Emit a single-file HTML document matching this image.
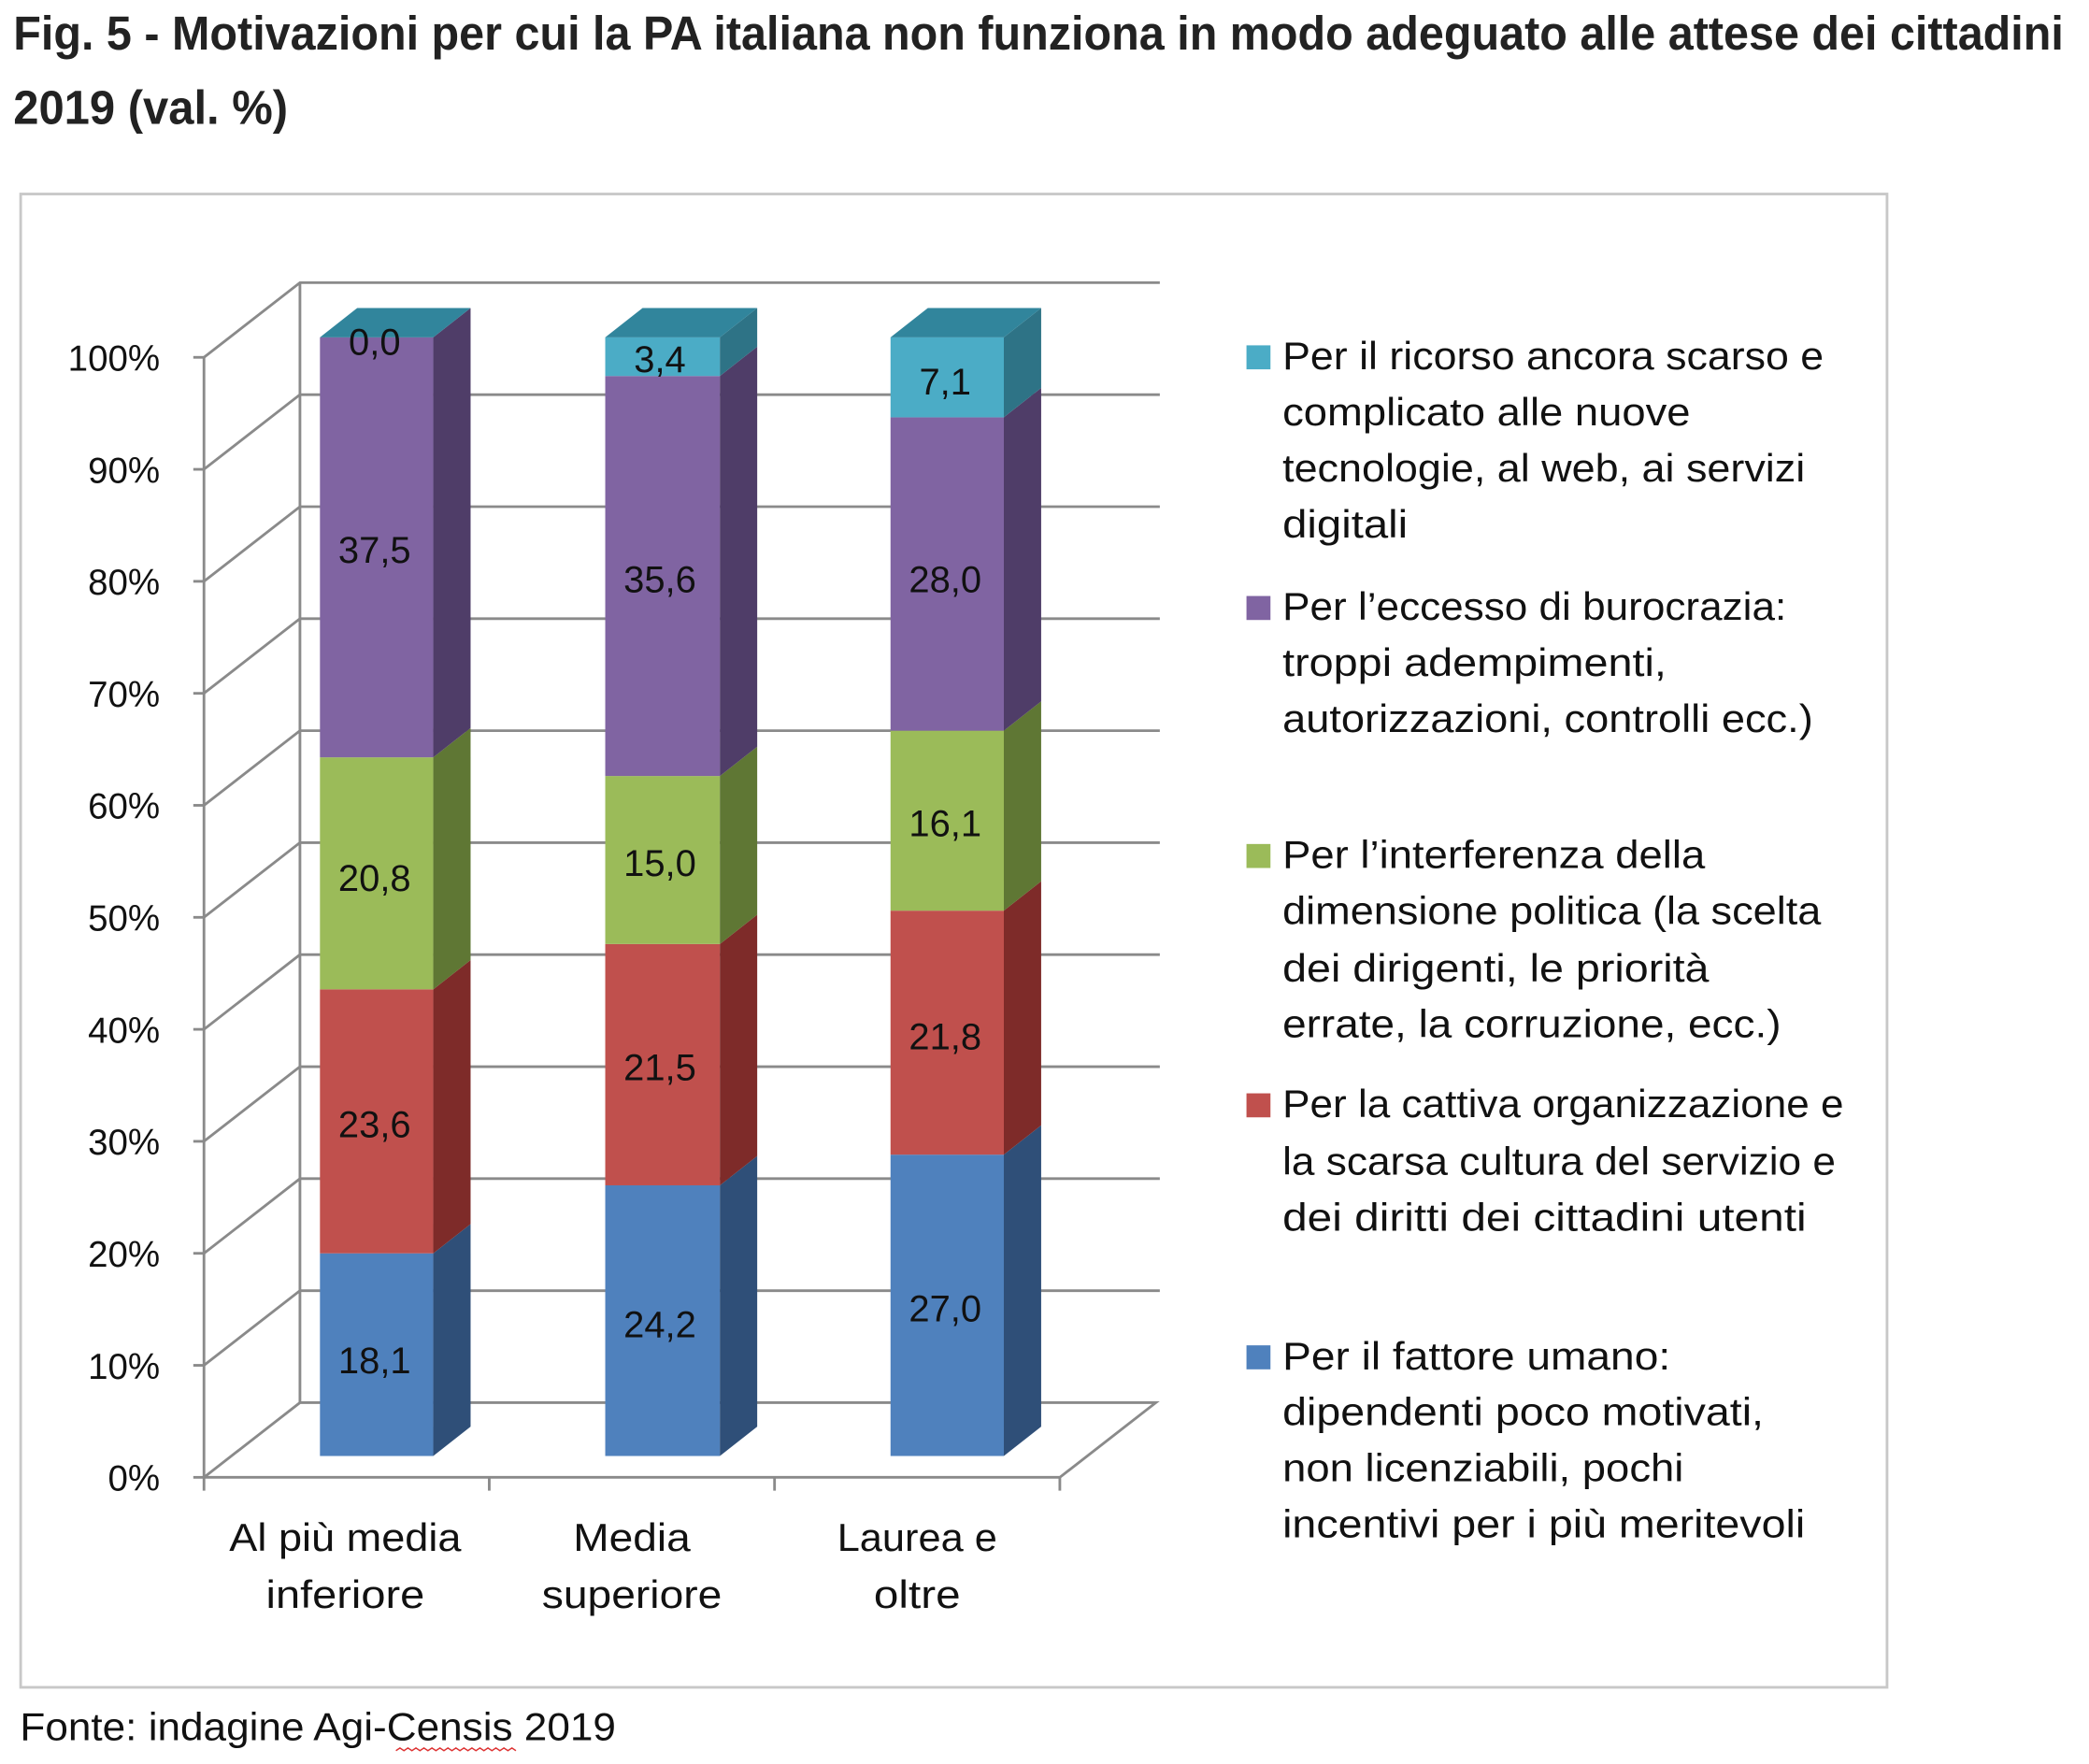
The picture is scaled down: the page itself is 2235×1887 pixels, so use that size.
<!DOCTYPE html>
<html><head><meta charset="utf-8"><style>
html,body{margin:0;padding:0;background:#fff;}
svg{display:block;}
text{font-family:"Liberation Sans",sans-serif;fill:#111;}
.t{font-family:"Liberation Sans Narrow","Liberation Sans",sans-serif;font-weight:bold;font-size:36px;fill:#222;}
.l{font-size:29px;}
.d{font-size:28px;text-anchor:middle;}
.y{font-size:27px;text-anchor:end;}
.c{font-size:29px;text-anchor:middle;}
</style></head><body>
<svg width="2235" height="1887" viewBox="0 0 1567 1323" preserveAspectRatio="none" xmlns="http://www.w3.org/2000/svg">
<text class="t" x="10" y="37" textLength="1538" lengthAdjust="spacingAndGlyphs">Fig. 5 - Motivazioni per cui la PA italiana non funziona in modo adeguato alle attese dei cittadini</text>
<text class="t" x="10" y="93" textLength="206" lengthAdjust="spacingAndGlyphs">2019 (val. %)</text>
<rect x="15.5" y="145.5" width="1400" height="1120" fill="none" stroke="#c8c8c8" stroke-width="2"/>
<g stroke="#8a8a8a" stroke-width="2" fill="none">
<line x1="225" y1="212" x2="225" y2="1052"/>
<line x1="153" y1="268" x2="153" y2="1108"/>
<polyline points="153,268 225,212 870,212"/>
<polyline points="153,352 225,296 870,296"/>
<polyline points="153,436 225,380 870,380"/>
<polyline points="153,520 225,464 870,464"/>
<polyline points="153,604 225,548 870,548"/>
<polyline points="153,688 225,632 870,632"/>
<polyline points="153,772 225,716 870,716"/>
<polyline points="153,856 225,800 870,800"/>
<polyline points="153,940 225,884 870,884"/>
<polyline points="153,1024 225,968 870,968"/>
<polyline points="153,1108 225,1052 867,1052 795,1108 153,1108"/>
<line x1="145" y1="268" x2="153" y2="268"/><line x1="145" y1="352" x2="153" y2="352"/><line x1="145" y1="436" x2="153" y2="436"/><line x1="145" y1="520" x2="153" y2="520"/><line x1="145" y1="604" x2="153" y2="604"/><line x1="145" y1="688" x2="153" y2="688"/><line x1="145" y1="772" x2="153" y2="772"/><line x1="145" y1="856" x2="153" y2="856"/><line x1="145" y1="940" x2="153" y2="940"/><line x1="145" y1="1024" x2="153" y2="1024"/><line x1="145" y1="1108" x2="153" y2="1108"/>
<line x1="153" y1="1108" x2="153" y2="1118"/><line x1="367" y1="1108" x2="367" y2="1118"/><line x1="581" y1="1108" x2="581" y2="1118"/><line x1="795" y1="1108" x2="795" y2="1118"/>
</g>
<g>
<text class="y" x="120" y="278">100%</text><text class="y" x="120" y="362">90%</text><text class="y" x="120" y="446">80%</text><text class="y" x="120" y="530">70%</text><text class="y" x="120" y="614">60%</text><text class="y" x="120" y="698">50%</text><text class="y" x="120" y="782">40%</text><text class="y" x="120" y="866">30%</text><text class="y" x="120" y="950">20%</text><text class="y" x="120" y="1034">10%</text><text class="y" x="120" y="1118">0%</text>
</g>
<g>
<rect x="240" y="940" width="85" height="152" fill="#4F81BD"/><polygon points="325,940 353,918 353,1070 325,1092" fill="#2F4F78"/>
<rect x="240" y="742" width="85" height="198" fill="#C0504D"/><polygon points="325,742 353,720 353,918 325,940" fill="#7E2B29"/>
<rect x="240" y="568" width="85" height="174" fill="#9BBB59"/><polygon points="325,568 353,546 353,720 325,742" fill="#5F7734"/>
<rect x="240" y="253" width="85" height="315" fill="#8064A2"/><polygon points="325,253 353,231 353,546 325,568" fill="#4F3D68"/>
<polygon points="240,253 268,231 353,231 325,253" fill="#31859C"/>
</g>
<g>
<rect x="454" y="889" width="86" height="203" fill="#4F81BD"/><polygon points="540,889 568,867 568,1070 540,1092" fill="#2F4F78"/>
<rect x="454" y="708" width="86" height="181" fill="#C0504D"/><polygon points="540,708 568,686 568,867 540,889" fill="#7E2B29"/>
<rect x="454" y="582" width="86" height="126" fill="#9BBB59"/><polygon points="540,582 568,560 568,686 540,708" fill="#5F7734"/>
<rect x="454" y="282" width="86" height="300" fill="#8064A2"/><polygon points="540,282 568,260 568,560 540,582" fill="#4F3D68"/>
<rect x="454" y="253" width="86" height="29" fill="#4BACC6"/><polygon points="540,253 568,231 568,260 540,282" fill="#2E7386"/>
<polygon points="454,253 482,231 568,231 540,253" fill="#31859C"/>
</g>
<g>
<rect x="668" y="866" width="85" height="226" fill="#4F81BD"/><polygon points="753,866 781,844 781,1070 753,1092" fill="#2F4F78"/>
<rect x="668" y="683" width="85" height="183" fill="#C0504D"/><polygon points="753,683 781,661 781,844 753,866" fill="#7E2B29"/>
<rect x="668" y="548" width="85" height="135" fill="#9BBB59"/><polygon points="753,548 781,526 781,661 753,683" fill="#5F7734"/>
<rect x="668" y="313" width="85" height="235" fill="#8064A2"/><polygon points="753,313 781,291 781,526 753,548" fill="#4F3D68"/>
<rect x="668" y="253" width="85" height="60" fill="#4BACC6"/><polygon points="753,253 781,231 781,291 753,313" fill="#2E7386"/>
<polygon points="668,253 696,231 781,231 753,253" fill="#31859C"/>
</g>
<g>
<text class="d" x="281" y="266">0,0</text><text class="d" x="281" y="422">37,5</text><text class="d" x="281" y="668">20,8</text><text class="d" x="281" y="853">23,6</text><text class="d" x="281" y="1030">18,1</text>
<text class="d" x="495" y="279">3,4</text><text class="d" x="495" y="444">35,6</text><text class="d" x="495" y="657">15,0</text><text class="d" x="495" y="810">21,5</text><text class="d" x="495" y="1003">24,2</text>
<text class="d" x="709" y="296">7,1</text><text class="d" x="709" y="444">28,0</text><text class="d" x="709" y="627">16,1</text><text class="d" x="709" y="787">21,8</text><text class="d" x="709" y="991">27,0</text>
</g>
<g>
<text class="c" x="259" y="1163" textLength="174" lengthAdjust="spacingAndGlyphs">Al più media</text>
<text class="c" x="259" y="1206" textLength="119" lengthAdjust="spacingAndGlyphs">inferiore</text>
<text class="c" x="474" y="1163" textLength="88" lengthAdjust="spacingAndGlyphs">Media</text>
<text class="c" x="474" y="1206" textLength="135" lengthAdjust="spacingAndGlyphs">superiore</text>
<text class="c" x="688" y="1163" textLength="120" lengthAdjust="spacingAndGlyphs">Laurea e</text>
<text class="c" x="688" y="1206" textLength="65" lengthAdjust="spacingAndGlyphs">oltre</text>
</g>
<g>
<rect x="935" y="259" width="18" height="18" fill="#4BACC6"/>
<text class="l" x="962" y="277" textLength="406" lengthAdjust="spacingAndGlyphs">Per il ricorso ancora  scarso e</text>
<text class="l" x="962" y="319" textLength="306" lengthAdjust="spacingAndGlyphs">complicato alle nuove</text>
<text class="l" x="962" y="361" textLength="392" lengthAdjust="spacingAndGlyphs">tecnologie, al web, ai servizi</text>
<text class="l" x="962" y="403" textLength="94" lengthAdjust="spacingAndGlyphs">digitali</text>
<rect x="935" y="447" width="18" height="18" fill="#8064A2"/>
<text class="l" x="962" y="465" textLength="378" lengthAdjust="spacingAndGlyphs">Per l’eccesso di burocrazia:</text>
<text class="l" x="962" y="507" textLength="288" lengthAdjust="spacingAndGlyphs">troppi adempimenti,</text>
<text class="l" x="962" y="549" textLength="398" lengthAdjust="spacingAndGlyphs">autorizzazioni, controlli ecc.)</text>
<rect x="935" y="633" width="18" height="18" fill="#9BBB59"/>
<text class="l" x="962" y="651" textLength="317" lengthAdjust="spacingAndGlyphs">Per l’interferenza della</text>
<text class="l" x="962" y="693" textLength="404" lengthAdjust="spacingAndGlyphs">dimensione politica (la scelta</text>
<text class="l" x="962" y="736" textLength="320" lengthAdjust="spacingAndGlyphs">dei dirigenti, le priorità</text>
<text class="l" x="962" y="778" textLength="374" lengthAdjust="spacingAndGlyphs">errate,  la corruzione, ecc.)</text>
<rect x="935" y="820" width="18" height="18" fill="#C0504D"/>
<text class="l" x="962" y="838" textLength="421" lengthAdjust="spacingAndGlyphs">Per la cattiva organizzazione e</text>
<text class="l" x="962" y="881" textLength="415" lengthAdjust="spacingAndGlyphs">la scarsa cultura del servizio e</text>
<text class="l" x="962" y="923" textLength="393" lengthAdjust="spacingAndGlyphs">dei diritti dei cittadini utenti</text>
<rect x="935" y="1009" width="18" height="18" fill="#4F81BD"/>
<text class="l" x="962" y="1027" textLength="291" lengthAdjust="spacingAndGlyphs">Per il fattore umano:</text>
<text class="l" x="962" y="1069" textLength="361" lengthAdjust="spacingAndGlyphs">dipendenti poco motivati,</text>
<text class="l" x="962" y="1111" textLength="301" lengthAdjust="spacingAndGlyphs">non licenziabili, pochi</text>
<text class="l" x="962" y="1153" textLength="392" lengthAdjust="spacingAndGlyphs">incentivi per i più meritevoli</text>
</g>
<text class="l" x="15" y="1305" textLength="447" lengthAdjust="spacingAndGlyphs">Fonte: indagine Agi-Censis 2019</text>
<path d="M297,1313 l3,-2 l3,2 l3,-2 l3,2 l3,-2 l3,2 l3,-2 l3,2 l3,-2 l3,2 l3,-2 l3,2 l3,-2 l3,2 l3,-2 l3,2 l3,-2 l3,2 l3,-2 l3,2 l3,-2 l3,2 l3,-2 l3,2 l3,-2 l3,2 l3,-2 l3,2 l3,-2 l3,2" stroke="#d33" stroke-width="1" fill="none"/>
</svg>
</body></html>
